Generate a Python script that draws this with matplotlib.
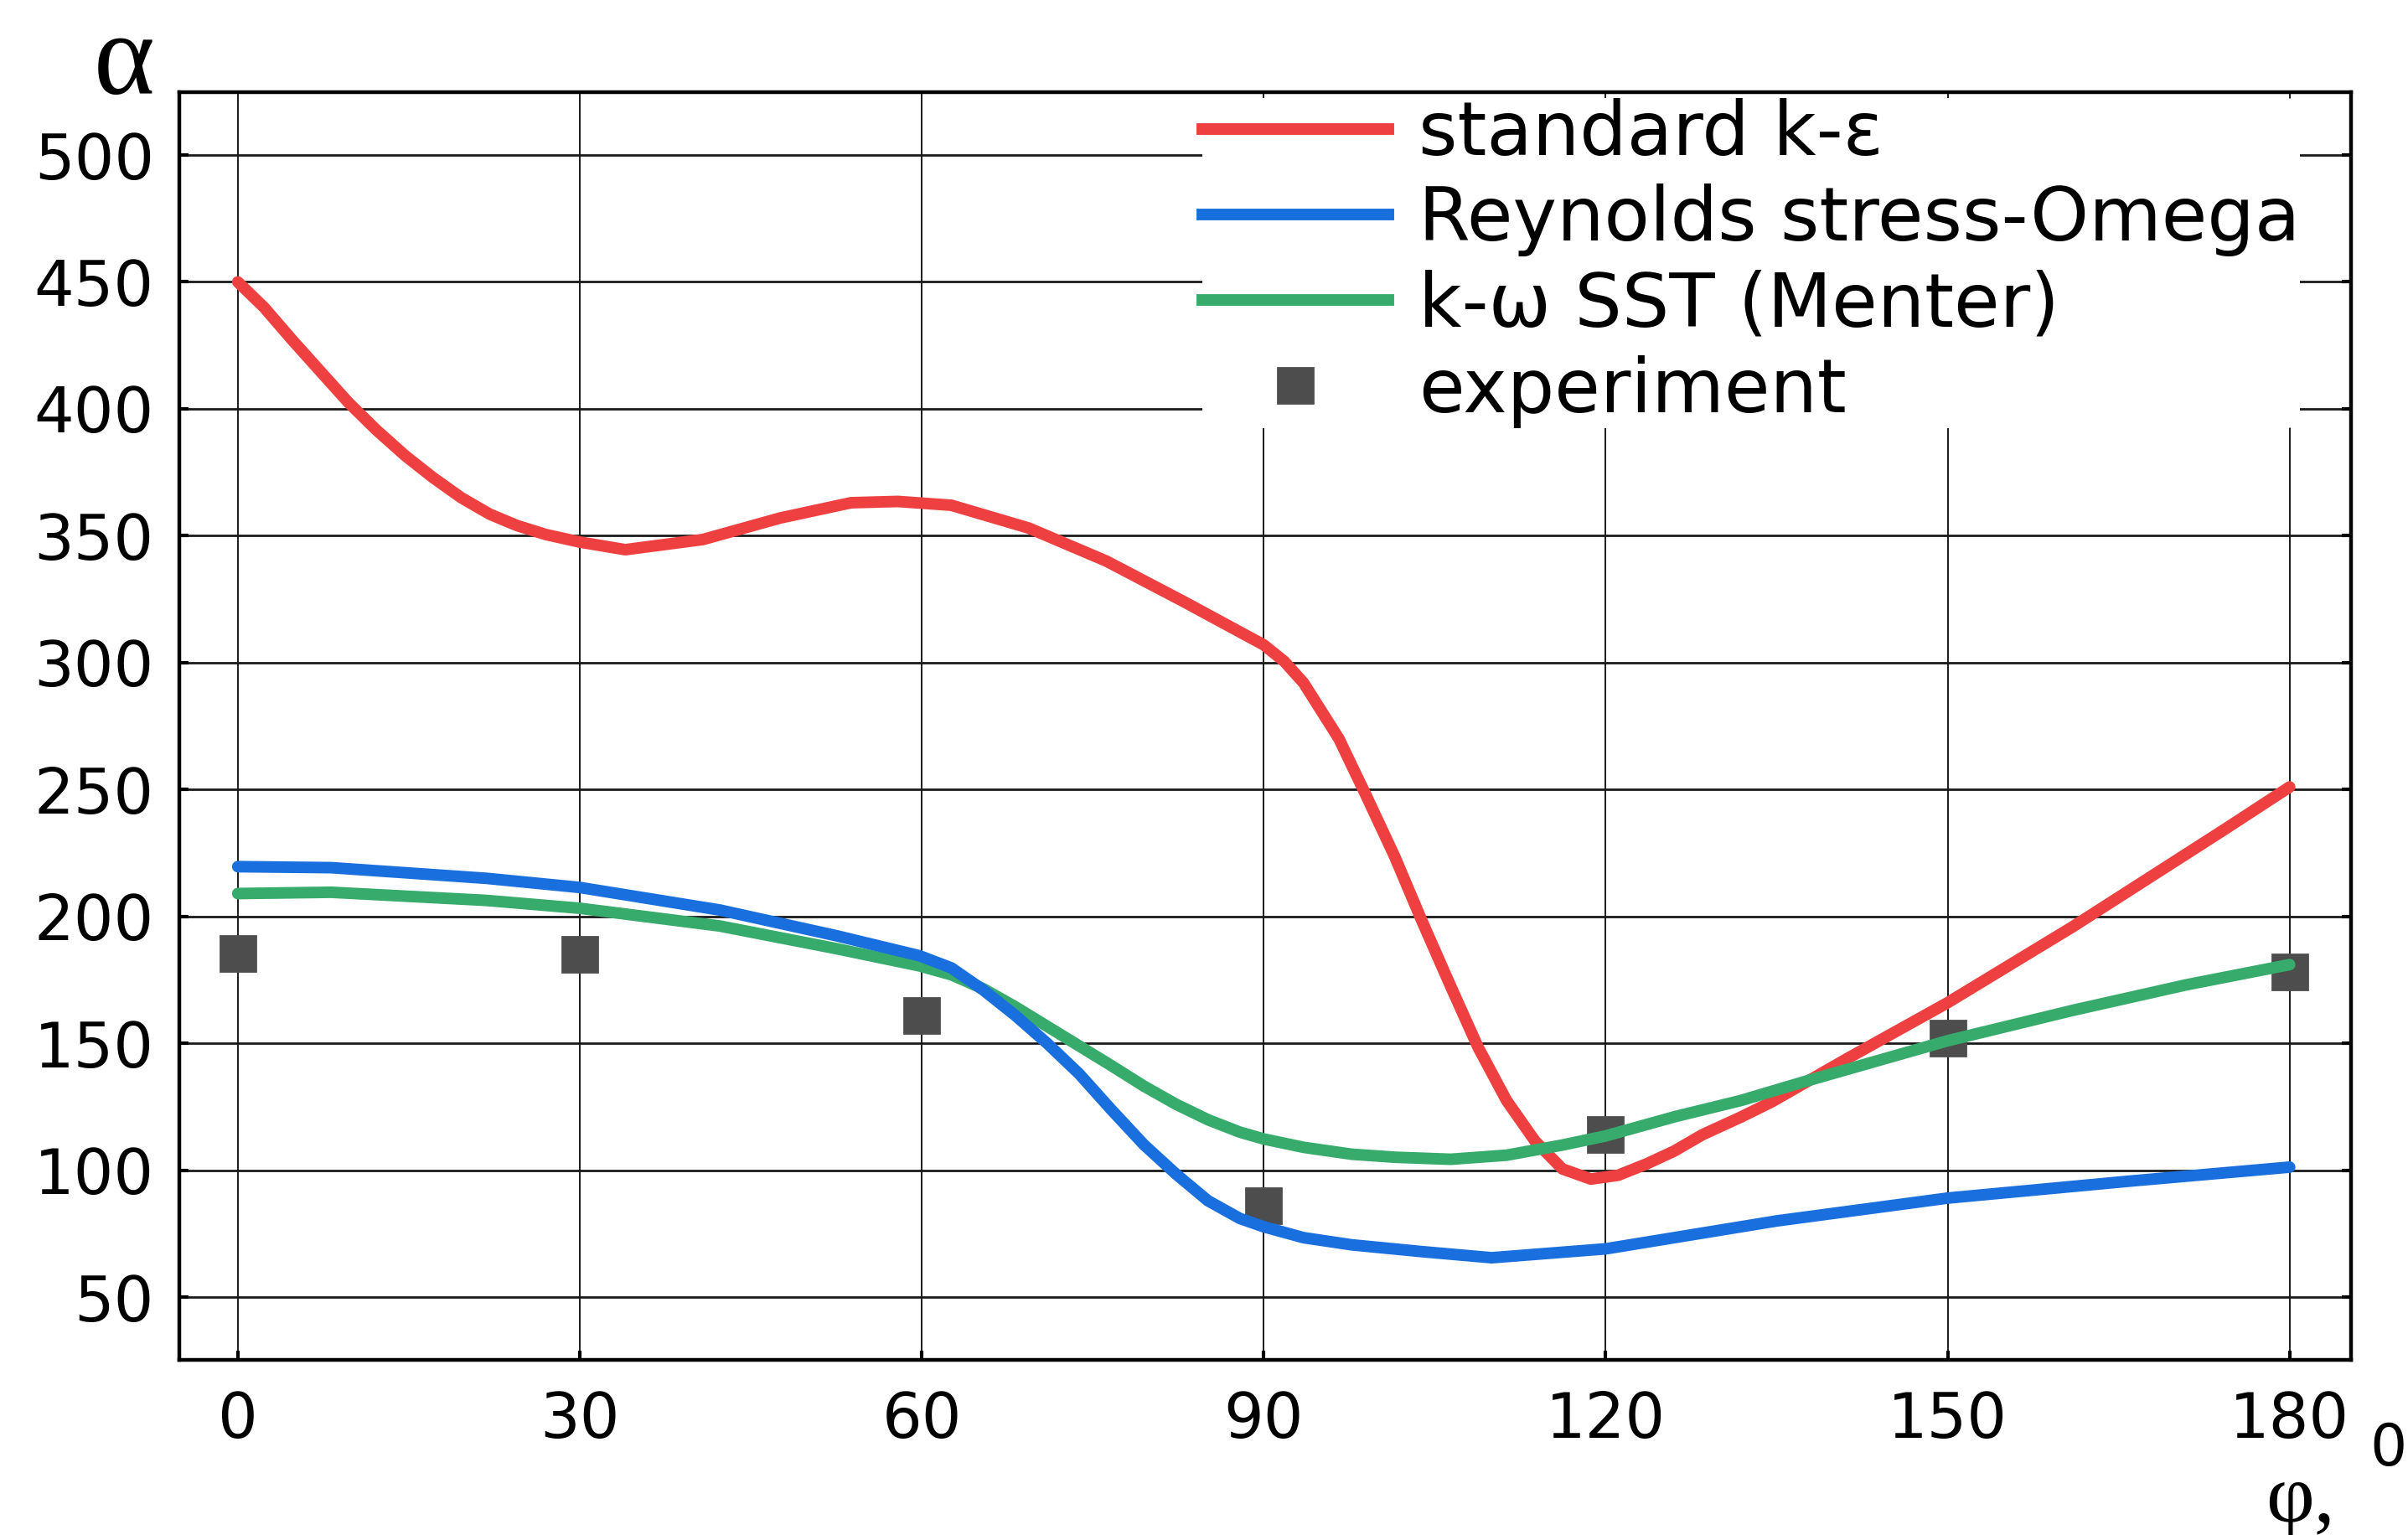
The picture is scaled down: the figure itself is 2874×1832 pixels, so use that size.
import matplotlib.pyplot as plt
from matplotlib.lines import Line2D

# values (phi in degrees, alpha)
phi_ke = [0, 2.3, 4.8, 7.3, 9.7, 12.2, 14.7, 17.1, 19.6, 22.1, 24.5, 27, 30, 34, 40.8,
          47.6, 53.8, 57.9, 62.6, 69.4, 76.2, 83, 90, 91.8, 93.5, 96.6, 99, 101.5,
          103.9, 106.4, 108.8, 111.3, 113.8, 116.2, 118.7, 121.1, 123.6, 126, 128.5,
          131.9, 134.6, 141.2, 150, 154.4, 161, 167.6, 174.2, 180]
alpha_ke = [450, 440, 427, 414.5, 402.5, 391.5, 381.5, 373, 365, 358.5, 354, 350.5, 347.5, 344.5, 348.5,
            357, 363, 363.5, 362, 353, 340, 324, 307, 300.5, 292, 270, 247.5, 223.5,
            198, 172.5, 148.5, 127.5, 111.5, 100.5, 96.5, 98, 102.5, 107.5, 114,
            121, 127, 144, 166, 178, 196, 215, 234, 251]

phi_rsm = [0, 8.2, 21.8, 30, 42.3, 52.5, 59.8, 62.6, 65.4, 68.2, 71, 73.8, 76.6, 79.5,
           82.3, 85.1, 87.9, 90, 93.5, 97.7, 103.9, 110, 120, 135, 150, 166, 180]
alpha_rsm = [219.6, 219.2, 215, 211.4, 202.5, 192.4, 184.5, 179.7, 171, 161, 150, 138, 124, 110,
             98.5, 88, 81, 77.7, 73.4, 70.6, 67.9, 65.5, 69, 80, 89, 95.7, 101.2]

phi_sst = [0, 8.2, 21.8, 30, 42.3, 52.5, 59.8, 62.6, 65.4, 68.2, 71, 73.8, 76.6, 79.5,
           82.3, 85.1, 87.9, 90, 93.5, 97.7, 101.5, 106.4, 111.3, 116.2, 120, 126,
           131.9, 137.9, 150, 161, 170.9, 180]
alpha_sst = [209, 209.5, 206.3, 203.2, 196.2, 187.3, 180.5, 177, 171.5, 164.4, 156.7, 149, 141.3, 133.1,
             126, 119.9, 115, 112.3, 109, 106.3, 105.1, 104.3, 105.9, 109.9, 113.5, 121,
             127.5, 135.5, 151, 163, 173, 181]

phi_exp = [0, 30, 60, 90, 120, 150, 180]
alpha_exp = [185.5, 185, 161, 86, 114, 152, 178]

x_ticks = [0, 30, 60, 90, 120, 150, 180]
y_ticks = [50, 100, 150, 200, 250, 300, 350, 400, 450, 500]

labels = ['standard k-ε', 'Reynolds stress-Omega', 'k-ω SST (Menter)', 'experiment']
c_red, c_blue, c_green, c_exp = '#ee4040', '#1a6fdf', '#37ab6b', '#4d4d4d'
lw = 5.0

plt.rcParams['font.family'] = ['DejaVu Sans']

fig = plt.figure(figsize=(14.37, 9.16), dpi=200)
ax = fig.add_axes([0.0746, 0.114, 0.9018, 0.826])

ax.plot(phi_exp, alpha_exp, 's', color=c_exp, markersize=15, zorder=2)
ax.plot(phi_ke, alpha_ke, '-', color=c_red, lw=lw, zorder=3, solid_capstyle='round',
        solid_joinstyle='round')
ax.plot(phi_sst, alpha_sst, '-', color=c_green, lw=lw, zorder=4, solid_capstyle='round',
        solid_joinstyle='round')
ax.plot(phi_rsm, alpha_rsm, '-', color=c_blue, lw=lw, zorder=5, solid_capstyle='round',
        solid_joinstyle='round')

ax.set_xlim(-5.1, 185.4)
ax.set_ylim(25.2, 524.8)
ax.set_xticks(x_ticks)
ax.set_yticks(y_ticks)

# grid
ax.yaxis.grid(True, color='#1a1a1a', lw=1.0)
ax.xaxis.grid(True, color='#1a1a1a', lw=0.7)
ax.set_axisbelow(True)

for s in ax.spines.values():
    s.set_linewidth(1.6)
ax.tick_params(direction='in', length=4, width=1.5, labelsize=27, right=True)
ax.tick_params(axis='y', pad=11)
ax.tick_params(axis='x', pad=13)

handles = [Line2D([], [], color=c_red, lw=lw),
           Line2D([], [], color=c_blue, lw=lw),
           Line2D([], [], color=c_green, lw=lw),
           Line2D([], [], color=c_exp, marker='s', ls='none', markersize=15)]
leg = fig.legend(handles, labels, loc='upper left', bbox_to_anchor=(783 / 1568, 1 - 64 / 1000),
                 fontsize=32, frameon=True, facecolor='white', edgecolor='none', framealpha=1,
                 borderpad=0.0, labelspacing=0.17, handlelength=2.5, handletextpad=0.4,
                 borderaxespad=0)
leg.set_zorder(10)

# axis symbols
fig.text(81 / 1568, 1 - 43 / 1000, 'α', family=['Liberation Serif'], fontsize=50,
         ha='center', va='center')
fig.text(1498 / 1568, 1 - 978 / 1000, 'φ,', family=['Liberation Serif'], fontsize=36,
         ha='center', va='center')
fig.text(1543 / 1568, 1 - 944 / 1000, '0', fontsize=25, ha='left', va='center')

fig.savefig('out.png', dpi=200)
